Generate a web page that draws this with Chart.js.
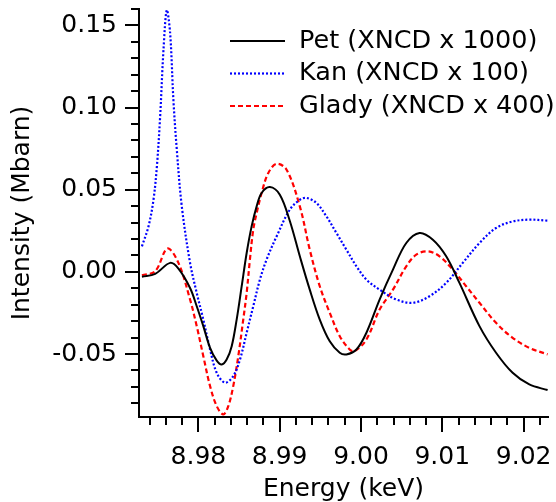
<!DOCTYPE html>
<html>
<head>
<meta charset="utf-8">
<script src="https://cdn.jsdelivr.net/npm/chart.js@4/dist/chart.umd.min.js"></script>
<style>
html,body{margin:0;padding:0;background:#fff;}
#wrap{width:556px;height:502px;position:relative;}
canvas{display:block;}
</style>
</head>
<body>
<div id="wrap"><canvas id="c" width="556" height="502"></canvas></div>
<script>
// ---- data ----
const seriesNames = ['Pet (XNCD x 1000)', 'Kan (XNCD x 100)', 'Glady (XNCD x 400)'];

const petEnergy = [8.97306, 8.97469, 8.97653, 8.97755, 8.97898, 8.97980, 8.98061, 8.98144, 8.98226, 8.98287,
  8.98348, 8.98410, 8.98471, 8.98533, 8.98594, 8.98655, 8.98717, 8.98778, 8.98880, 8.99002,
  8.99125, 8.99248, 8.99370, 8.99493, 8.99616, 8.99739, 8.99821, 8.99944, 9.00067, 9.00229,
  9.00393, 9.00557, 9.00720, 9.00884, 9.01048, 9.01211, 9.01457, 9.01661, 9.01865, 9.02070,
  9.02295];
const petIntensity = [-0.0029, -0.0012, 0.0055, 0.0020, -0.0098, -0.0209, -0.0330, -0.0462, -0.0540, -0.0563,
  -0.0533, -0.0452, -0.0290, -0.0087, 0.0115, 0.0277, 0.0399, 0.0480, 0.0516, 0.0470,
  0.0310, 0.0095, -0.0108, -0.0290, -0.0422, -0.0492, -0.0502, -0.0472, -0.0370, -0.0168,
  0.0014, 0.0176, 0.0237, 0.0196, 0.0095, -0.0067, -0.0330, -0.0492, -0.0614, -0.0685,
  -0.0719];

const kanEnergy = [8.97306, 8.97387, 8.97448, 8.97490, 8.97530, 8.97571, 8.97612, 8.97653, 8.97693, 8.97735,
  8.97796, 8.97898, 8.97980, 8.98061, 8.98144, 8.98226, 8.98328, 8.98429, 8.98512, 8.98594,
  8.98675, 8.98757, 8.98839, 8.98962, 8.99125, 8.99248, 8.99330, 8.99453, 8.99575, 8.99698,
  8.99821, 8.99944, 9.00067, 9.00229, 9.00434, 9.00638, 9.00843, 9.01048, 9.01252, 9.01457,
  9.01661, 9.01865, 9.02070, 9.02295];
const kanIntensity = [0.0156, 0.0277, 0.0439, 0.0642, 0.0945, 0.1350, 0.1594, 0.1452, 0.1047, 0.0743,
  0.0400, 0.0055, -0.0128, -0.0290, -0.0472, -0.0614, -0.0674, -0.0634, -0.0533, -0.0370,
  -0.0209, -0.0047, 0.0075, 0.0216, 0.0379, 0.0439, 0.0450, 0.0419, 0.0338, 0.0237,
  0.0135, 0.0034, -0.0047, -0.0108, -0.0168, -0.0188, -0.0148, -0.0067, 0.0055, 0.0176,
  0.0267, 0.0307, 0.0318, 0.0312];

const gladyEnergy = [8.97306, 8.97469, 8.97620, 8.97755, 8.97898, 8.97980, 8.98061, 8.98144, 8.98226, 8.98307,
  8.98368, 8.98429, 8.98491, 8.98552, 8.98594, 8.98634, 8.98675, 8.98717, 8.98778, 8.98859,
  8.98962, 8.99085, 8.99248, 8.99370, 8.99493, 8.99616, 8.99739, 8.99861, 8.99923, 9.00067,
  9.00229, 9.00393, 9.00557, 9.00680, 9.00822, 9.00966, 9.01129, 9.01293, 9.01457, 9.01661,
  9.01865, 9.02070, 9.02295];
const gladyIntensity = [-0.0020, 0.0004, 0.0142, 0.0055, -0.0168, -0.0330, -0.0513, -0.0695, -0.0817, -0.0867,
  -0.0817, -0.0695, -0.0513, -0.0290, -0.0128, 0.0075, 0.0257, 0.0358, 0.0480, 0.0601,
  0.0658, 0.0622, 0.0399, 0.0135, -0.0087, -0.0249, -0.0391, -0.0472, -0.0482, -0.0411,
  -0.0229, -0.0108, 0.0034, 0.0105, 0.0125, 0.0095, 0.0014, -0.0087, -0.0188, -0.0310,
  -0.0401, -0.0462, -0.0502];

const xTickLabels = ['8.98', '8.99', '9.00', '9.01', '9.02'];
const yTickLabels = ['-0.05', '0.00', '0.05', '0.10', '0.15'];
const xMinorStepThousandths = 2;   // minor ticks every 0.002 keV
const yMinorStepHundredths = 1;    // minor ticks every 0.01 Mbarn

// ---- build chart ----
const FONT = 'DejaVu Sans';
function pts(xs, ys) { return xs.map((x, i) => ({x: x, y: ys[i]})); }

const datasets = [
  {label: seriesNames[0], data: pts(petEnergy, petIntensity), borderColor: '#000000', borderWidth: 2, borderDash: []},
  {label: seriesNames[1], data: pts(kanEnergy, kanIntensity), borderColor: '#0000ff', borderWidth: 2.2, borderDash: [2, 2]},
  {label: seriesNames[2], data: pts(gladyEnergy, gladyIntensity), borderColor: '#ff0000', borderWidth: 2.2, borderDash: [5, 3]}
].map(d => Object.assign(d, {pointRadius: 0, fill: false, tension: 0.35}));

const tickMarks = {
  id: 'tickMarks',
  afterDraw(chart) {
    const {ctx, chartArea: a} = chart;
    const x = chart.scales.x, y = chart.scales.y;
    ctx.save();
    ctx.strokeStyle = '#000';
    ctx.lineWidth = 2;
    ctx.setLineDash([]);
    x.ticks.forEach(t => {
      const px = Math.round(x.getPixelForValue(t.value));
      const len = t.label ? 15 : 8;
      ctx.beginPath(); ctx.moveTo(px, a.bottom); ctx.lineTo(px, a.bottom + len); ctx.stroke();
    });
    y.ticks.forEach(t => {
      const py = Math.round(y.getPixelForValue(t.value));
      const len = t.label ? 14 : 8;
      ctx.beginPath(); ctx.moveTo(a.left, py); ctx.lineTo(a.left - len, py); ctx.stroke();
    });
    ctx.restore();
  }
};

const insideLegend = {
  id: 'insideLegend',
  afterDraw(chart) {
    const ctx = chart.ctx;
    const rows = [41, 73.5, 106];
    ctx.save();
    chart.data.datasets.forEach((d, i) => {
      ctx.strokeStyle = d.borderColor;
      ctx.lineWidth = d.borderWidth;
      ctx.setLineDash(d.borderDash);
      ctx.beginPath(); ctx.moveTo(230, rows[i]); ctx.lineTo(285, rows[i]); ctx.stroke();
      ctx.setLineDash([]);
      ctx.fillStyle = '#000';
      ctx.font = '25.5px "' + FONT + '"';
      ctx.textBaseline = 'middle';
      ctx.textAlign = 'left';
      ctx.fillText(d.label, 299, rows[i]);
    });
    ctx.restore();
  }
};

function noPad(s) { s.paddingTop = 0; s.paddingBottom = 0; s.paddingLeft = 0; s.paddingRight = 0; }

new Chart(document.getElementById('c'), {
  type: 'line',
  data: {datasets: datasets},
  options: {
    responsive: false,
    animation: false,
    devicePixelRatio: 1,
    layout: {padding: {top: 9, right: 8, left: 0, bottom: 0}},
    plugins: {legend: {display: false}, tooltip: {enabled: false}},
    scales: {
      x: {
        type: 'linear',
        min: 8.9727,
        max: 9.023,
        afterFit(s) { s.height = 85; noPad(s); },
        afterBuildTicks(s) {
          const t = [];
          const lo = Math.ceil(s.min * 1000 / xMinorStepThousandths) * xMinorStepThousandths;
          for (let i = lo; i <= s.max * 1000 + 1e-6; i += xMinorStepThousandths) t.push({value: i / 1000});
          s.ticks = t;
        },
        grid: {display: false, drawTicks: false},
        border: {display: true, color: '#000', width: 2},
        ticks: {
          autoSkip: false, maxRotation: 0, minRotation: 0, padding: 25, color: '#000',
          font: {family: FONT, size: 25},
          callback(v) { const s = v.toFixed(2); return (xTickLabels.includes(s) && Math.abs(v - parseFloat(s)) < 1e-9) ? s : ''; }
        },
        title: {display: true, text: 'Energy (keV)', color: '#000', font: {family: FONT, size: 25, lineHeight: 1}, padding: {top: 0, bottom: 0}}
      },
      y: {
        type: 'linear',
        min: -0.0883,
        max: 0.16,
        afterFit(s) { s.width = 139; noPad(s); },
        afterBuildTicks(s) {
          const t = [];
          const lo = Math.ceil(s.min * 100 / yMinorStepHundredths - 1e-6) * yMinorStepHundredths;
          for (let i = lo; i <= s.max * 100 + 1e-6; i += yMinorStepHundredths) t.push({value: i / 100});
          s.ticks = t;
        },
        grid: {display: false, drawTicks: false},
        border: {display: true, color: '#000', width: 2},
        ticks: {
          autoSkip: false, padding: 22, color: '#000',
          font: {family: FONT, size: 25},
          callback(v) { const s = v.toFixed(2); return (yTickLabels.includes(s) && Math.abs(v - parseFloat(s)) < 1e-9) ? s : ''; }
        },
        title: {display: true, text: 'Intensity (Mbarn)', color: '#000', font: {family: FONT, size: 25, lineHeight: 1}, padding: {top: 10, bottom: 0}}
      }
    }
  },
  plugins: [tickMarks, insideLegend]
});
</script>
</body>
</html>
